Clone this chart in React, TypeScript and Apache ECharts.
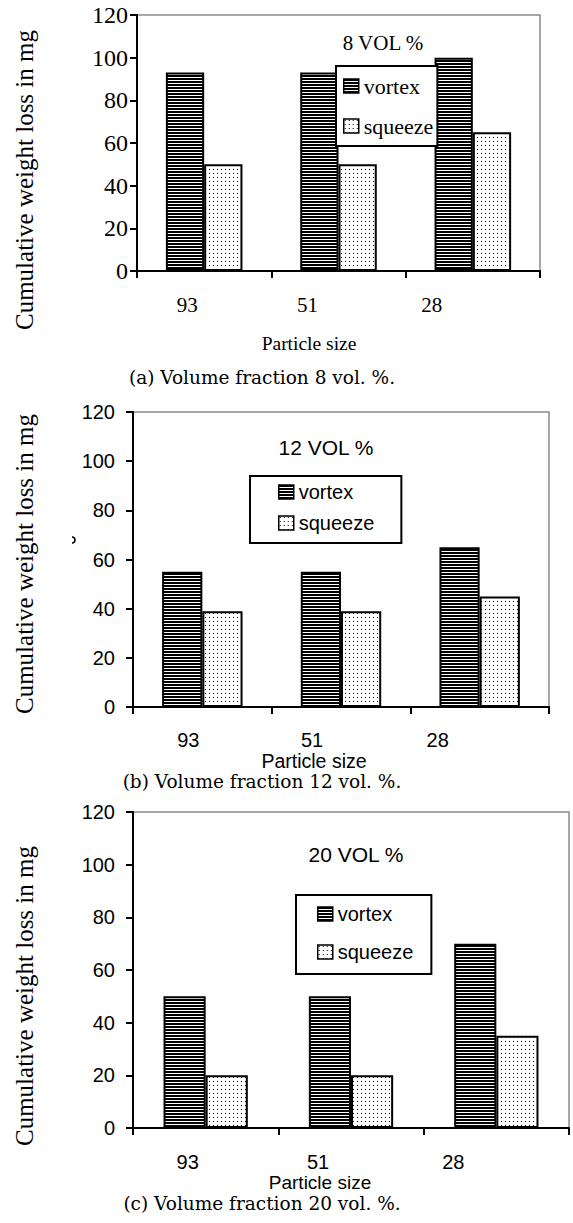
import React, { useEffect, useRef } from 'react';
import * as echarts from 'echarts';

// ---- data ----
const categories = ['93', '51', '28'];
const seriesNames = ['vortex', 'squeeze'];
const vortexA = [93, 93, 100];
const squeezeA = [50, 50, 65];
const vortexB = [55, 55, 65];
const squeezeB = [39, 39, 45];
const vortexC = [50, 50, 70];
const squeezeC = [20, 20, 35];
const yMin = 0;
const yMax = 120;
const yInterval = 20;
const panelTitles = ['8 VOL %', '12 VOL %', '20 VOL %'];
const captions = [
  '(a) Volume fraction 8 vol. %.',
  '(b) Volume fraction 12 vol. %.',
  '(c) Volume fraction 20 vol. %.',
];
const yAxisTitle = 'Cumulative weight loss in mg';
const xAxisTitle = 'Particle size';

const SERIF = 'Liberation Serif';
const SANS = 'Liberation Sans';
const CAPTION = 'DejaVu Serif';

// ---- layout ----
const layout = [
  {
    font: SERIF,
    vortex: vortexA,
    squeeze: squeezeA,
    grid: { left: 137, top: 15, width: 403, height: 256 },
    yLabel: { size: 24, margin: 9 },
    cat: { size: 21, margin: 23, shift: [17, 31, 41] },
    gap: '43%',
    titlePos: [383, 43],
    titleSize: 21,
    legend: { left: 336, top: 66, padding: [9, 4, 9, 7], itemGap: 18, fontSize: 22 },
    yTitlePos: [24, 180],
    xNamePos: [309, 343],
    xNameSize: 19.5,
    captionPos: [262, 377],
  },
  {
    font: SANS,
    vortex: vortexB,
    squeeze: squeezeB,
    grid: { left: 133, top: 412, width: 416, height: 295 },
    yLabel: { size: 20, margin: 18 },
    cat: { size: 20, margin: 23, shift: [14, 29, 42] },
    gap: '42%',
    titlePos: [326, 447],
    titleSize: 21,
    legend: { left: 250, top: 476, padding: [6, 27, 10, 28], itemGap: 11, fontSize: 20 },
    yTitlePos: [24, 564],
    xNamePos: [314, 761],
    xNameSize: 19.5,
    captionPos: [262, 781],
  },
  {
    font: SANS,
    vortex: vortexC,
    squeeze: squeezeC,
    grid: { left: 133, top: 812, width: 436, height: 316 },
    yLabel: { size: 20, margin: 18 },
    cat: { size: 20, margin: 24, shift: [18, 33, 43] },
    gap: '42%',
    titlePos: [356, 854],
    titleSize: 21,
    legend: { left: 296, top: 895, padding: [9, 18, 12, 21], itemGap: 18, fontSize: 20 },
    yTitlePos: [24, 996],
    xNamePos: [320, 1182],
    xNameSize: 19,
    captionPos: [262, 1203],
  },
];

function makeCanvas(w: number, h: number, draw: (ctx: CanvasRenderingContext2D) => void) {
  const c = document.createElement('canvas');
  c.width = w;
  c.height = h;
  const ctx = c.getContext('2d') as CanvasRenderingContext2D;
  draw(ctx);
  return c;
}

export default function App() {
  const ref = useRef<HTMLDivElement>(null);

  useEffect(() => {
    if (!ref.current) return;
    const chart = echarts.init(ref.current, null, { renderer: 'svg' });

    const stripe = makeCanvas(4, 3, (ctx) => {
      ctx.fillStyle = '#fff';
      ctx.fillRect(0, 0, 4, 3);
      ctx.fillStyle = '#000';
      ctx.fillRect(0, 0, 4, 2);
    });
    const dots = makeCanvas(4, 4, (ctx) => {
      ctx.fillStyle = '#fff';
      ctx.fillRect(0, 0, 4, 4);
      ctx.fillStyle = '#000';
      ctx.fillRect(1, 1, 1, 1);
    });
    const fills = [
      { image: stripe, repeat: 'repeat' },
      { image: dots, repeat: 'repeat' },
    ];

    const grids: any[] = [];
    const xAxes: any[] = [];
    const yAxes: any[] = [];
    const series: any[] = [];
    const legends: any[] = [];
    const graphics: any[] = [];

    layout.forEach((p, i) => {
      grids.push({
        ...p.grid,
        show: true,
        borderColor: '#8a8a8a',
        borderWidth: 1.5,
        backgroundColor: 'transparent',
        containLabel: false,
      });
      const rich: any = {};
      p.cat.shift.forEach((s, k) => {
        rich['s' + k] = {
          fontFamily: p.font,
          fontSize: p.cat.size,
          color: '#000',
          padding: [0, 2 * s, 0, 0],
        };
      });
      xAxes.push({
        type: 'category',
        gridIndex: i,
        data: categories,
        boundaryGap: true,
        axisLine: { show: true, lineStyle: { color: '#000', width: 2 } },
        axisTick: { show: true, length: 7, inside: false, lineStyle: { color: '#000', width: 2 } },
        axisLabel: {
          interval: 0,
          margin: p.cat.margin,
          fontFamily: p.font,
          fontSize: p.cat.size,
          color: '#000',
          formatter: (v: string, idx: number) => `{s${idx}|${v}}`,
          rich,
        },
        splitLine: { show: false },
      });
      yAxes.push({
        type: 'value',
        gridIndex: i,
        min: yMin,
        max: yMax,
        interval: yInterval,
        axisLine: { show: true, lineStyle: { color: '#000', width: 2 } },
        axisTick: { show: true, length: 7, inside: false, lineStyle: { color: '#000', width: 2 } },
        axisLabel: {
          margin: p.yLabel.margin,
          fontFamily: p.font,
          fontSize: p.yLabel.size,
          color: '#000',
        },
        splitLine: { show: false },
      });
      [p.vortex, p.squeeze].forEach((vals, k) => {
        series.push({
          type: 'bar',
          name: seriesNames[k],
          xAxisIndex: i,
          yAxisIndex: i,
          data: vals,
          barGap: '0%',
          barCategoryGap: p.gap,
          itemStyle: {
            color: fills[k],
            borderColor: '#000',
            borderWidth: 2,
          },
          emphasis: { disabled: true },
          z: 2,
        });
      });
      legends.push({
        show: true,
        orient: 'vertical',
        left: p.legend.left,
        top: p.legend.top,
        padding: p.legend.padding,
        itemGap: p.legend.itemGap,
        itemWidth: 15,
        itemHeight: 14,
        backgroundColor: '#fff',
        borderColor: '#000',
        borderWidth: 2,
        borderRadius: 0,
        icon: 'rect',
        selectedMode: false,
        data: seriesNames,
        itemStyle: { borderColor: '#000', borderWidth: 1.5 },
        textStyle: { fontFamily: p.font, fontSize: p.legend.fontSize, color: '#000' },
        z: 10,
      });
      graphics.push({
        type: 'text',
        x: p.titlePos[0],
        y: p.titlePos[1],
        z: 20,
        style: {
          text: panelTitles[i],
          font: `${p.titleSize}px ${p.font}`,
          fill: '#000',
          textAlign: 'center',
          textVerticalAlign: 'middle',
        },
      });
      graphics.push({
        type: 'text',
        x: p.yTitlePos[0],
        y: p.yTitlePos[1],
        rotation: Math.PI / 2,
        style: {
          text: yAxisTitle,
          font: `25px ${SERIF}`,
          fill: '#000',
          textAlign: 'center',
          textVerticalAlign: 'middle',
        },
      });
      graphics.push({
        type: 'text',
        x: p.xNamePos[0],
        y: p.xNamePos[1],
        style: {
          text: xAxisTitle,
          font: `${p.xNameSize}px ${p.font}`,
          fill: '#000',
          textAlign: 'center',
          textVerticalAlign: 'middle',
        },
      });
      graphics.push({
        type: 'text',
        x: p.captionPos[0],
        y: p.captionPos[1],
        style: {
          text: captions[i],
          font: `18.5px ${CAPTION}`,
          fill: '#000',
          textAlign: 'center',
          textVerticalAlign: 'middle',
        },
      });
    });

    // small stray mark in panel (b)
    graphics.push({
      type: 'arc',
      shape: { cx: 72, cy: 540, r: 3, startAngle: -Math.PI / 2, endAngle: Math.PI / 2 },
      style: { stroke: '#000', lineWidth: 1.5, fill: 'none' },
    });

    chart.setOption({
      animation: false,
      backgroundColor: '#fff',
      grid: grids,
      xAxis: xAxes,
      yAxis: yAxes,
      legend: legends,
      series,
      graphic: graphics,
      tooltip: { show: false },
    });

    return () => chart.dispose();
  }, []);

  return (
    <div
      ref={ref}
      style={{ position: 'absolute', left: 0, top: 0, width: 573, height: 1223, background: '#fff' }}
    />
  );
}
